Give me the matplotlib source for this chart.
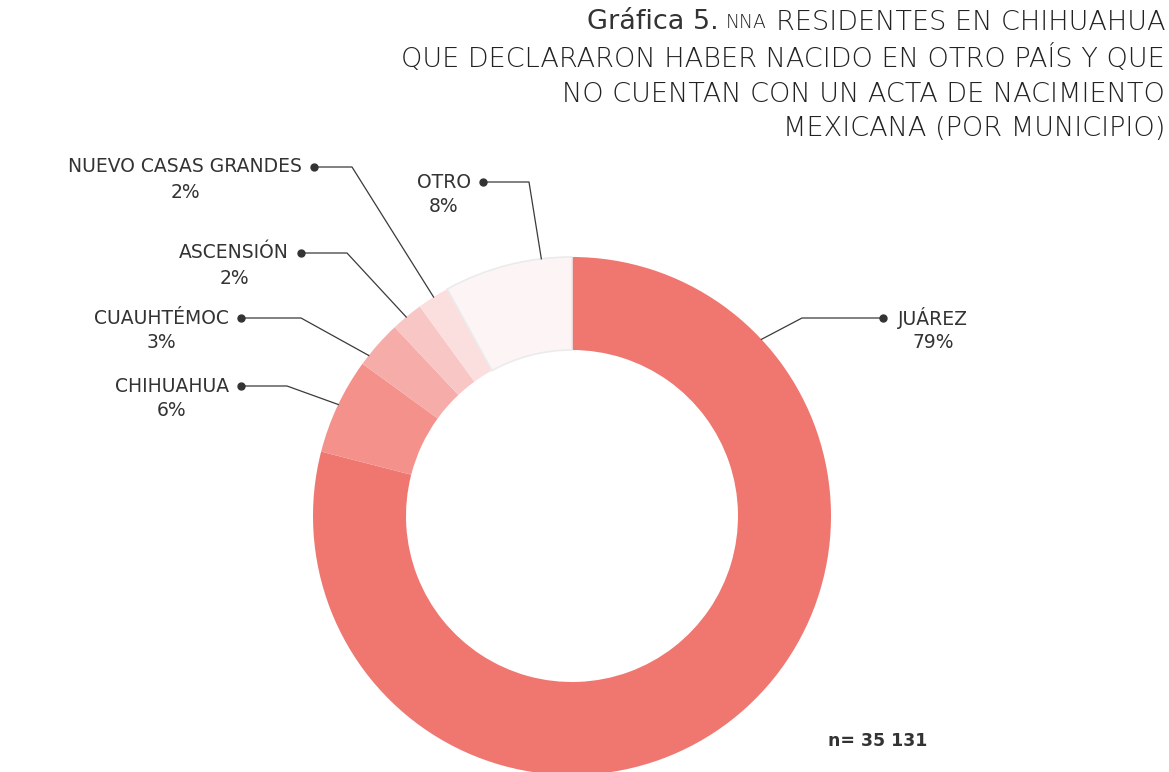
import matplotlib.pyplot as plt
import numpy as np

# Datos (porcentaje por municipio)
municipios = ['JUÁREZ', 'CHIHUAHUA', 'CUAUHTÉMOC', 'ASCENSIÓN', 'NUEVO CASAS GRANDES', 'OTRO']
porcentajes = [79, 6, 3, 2, 2, 8]
etiquetas_pct = ['79%', '6%', '3%', '2%', '2%', '8%']
colores = ['#F07670', '#F4918B', '#F6ACA9', '#F8C6C4', '#FBDFDE', '#FDF5F5']
n_total = 'n= 35 131'

titulo = ['RESIDENTES EN CHIHUAHUA',
          'QUE DECLARARON HABER NACIDO EN OTRO PAÍS Y QUE',
          'NO CUENTAN CON UN ACTA DE NACIMIENTO',
          'MEXICANA (POR MUNICIPIO)']

W, H = 1169, 772
TXT = '#333333'
plt.rcParams['font.family'] = ['DejaVu Sans']

fig = plt.figure(figsize=(W / 100, H / 100), dpi=100)
ax = fig.add_axes([0, 0, 1, 1])

def py(y):
    # pixel desde arriba -> coordenada de datos
    return H - y

cx, cy, R, grosor = 572, py(516), 259, 93
wedges, _ = ax.pie(porcentajes, colors=colores, startangle=90, counterclock=False,
                   radius=R, center=(cx, cy),
                   wedgeprops=dict(width=grosor, linewidth=0))
wedges[-1].set_edgecolor('#EBEBEB')
wedges[-1].set_linewidth(1.2)

ax.set_xlim(0, W)
ax.set_ylim(0, H)
ax.set_aspect('equal')
ax.axis('off')

# posiciones de las etiquetas: angulo del conector, punto, codo, lado
leader_ang = [43, 154.5, 141.7, 129.8, 122.3, 96.8]
dots = [(883, 318), (241, 386), (241, 318), (301, 253), (314, 167), (483, 182)]
codos = [802, 287, 301, 347, 352, 529]
lados = ['r', 'l', 'l', 'l', 'l', 'l']

fig.canvas.draw()
rend = fig.canvas.get_renderer()

FS = 13.5
for i in range(len(municipios)):
    a = np.deg2rad(leader_ang[i])
    x0, y0 = cx + R * np.cos(a), cy + R * np.sin(a)
    dx, dy = dots[i]
    ax.plot([x0, codos[i], dx], [y0, py(dy), py(dy)], color='#3a3a3a', lw=0.9)
    ax.plot(dx, py(dy), 'o', color='#333333', ms=5)
    if lados[i] == 'r':
        t = ax.text(dx + 15, py(dy), municipios[i], ha='left', va='center',
                    fontsize=FS, color=TXT)
    else:
        t = ax.text(dx - 12, py(dy), municipios[i], ha='right', va='center',
                    fontsize=FS, color=TXT)
    bb = t.get_window_extent(renderer=rend)
    ax.text((bb.x0 + bb.x1) / 2, py(dy + 25), etiquetas_pct[i], ha='center',
            va='center', fontsize=FS, color=TXT)

# Titulo
ys = [22, 58, 94, 129]
for k, linea in enumerate(titulo):
    t = ax.text(1165, py(ys[k]), linea, ha='right', va='center', fontsize=19.5,
                color='#222222', fontweight='light')
    if k == 0:
        bb = t.get_window_extent(renderer=rend)
        t2 = ax.text(bb.x0 - 9, py(ys[k]) - 1, 'NNA', ha='right', va='center',
                     fontsize=13.5, color='#222222', fontweight='light')
        bb2 = t2.get_window_extent(renderer=rend)
        ax.text(bb2.x0 - 7, py(ys[k]), 'Gráfica 5.', ha='right', va='center',
                fontsize=19.5, color=TXT)

ax.text(878, py(741), n_total, ha='center', va='center', fontsize=12.5,
        fontweight='semibold', color=TXT)

fig.savefig('out.png', dpi=100, facecolor='white')
